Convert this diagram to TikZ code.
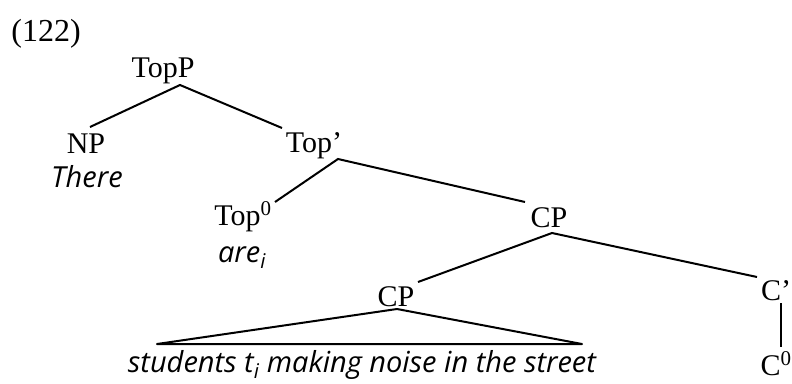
\documentclass[tikz,border=0pt]{standalone}
\usepackage{fontspec}
\setmainfont{Liberation Serif}
\newfontfamily\glossfont{Open Sans}

\begin{document}
\begin{tikzpicture}[
        x=1pt, y=-1pt,
        cat/.style={inner sep=0pt, anchor=base, font=\fontsize{30}{35}\selectfont},
        word/.style={inner sep=0pt, anchor=base, font=\glossfont\itshape\fontsize{29}{34}\selectfont},
        branch/.style={line width=2pt}
    ]
    \useasboundingbox (0,0) rectangle (792,383);

    % --- Example number ---
    \node[cat, font=\fontsize{32}{36}\selectfont] (num) at (46,41) {(122)};

    % --- Labels ---
    \node[cat] (topp) at (163,77) {TopP};
    \node[cat] (np) at (86,153) {NP};
    \node[word] (there) at (87,187) {There};
    \node[cat] (topbar) at (314,152) {Top’};
    \node[cat] (top0) at (243,225) {Top\textsuperscript{0}};
    \node[word] (are) at (242,262) {are\textsubscript{i}};
    \node[cat] (cp1) at (549,227) {CP};
    \node[cat] (cp2) at (396,306) {CP};
    \node[cat] (cbar) at (776,300) {C’};
    \node[cat] (c0) at (776,375) {C\textsuperscript{0}};
    \node[word] (yield) at (362,372) {students t\textsubscript{i} making noise in the street};

    % --- Attachment points ---
    \coordinate (topp-b) at (180,85);
    \coordinate (np-t) at (90,127);
    \coordinate (topbar-t) at (282,128);
    \coordinate (topbar-b) at (338,159);
    \coordinate (top0-t) at (275,202);
    \coordinate (cp1-t) at (525,202);
    \coordinate (cp1-b) at (552,233);
    \coordinate (cp2-t) at (418,282);
    \coordinate (cbar-t) at (757,277);
    \coordinate (cbar-b) at (781,303);
    \coordinate (c0-t) at (781,347);
    \coordinate (cp2-b) at (397,309);
    \coordinate (tri-l) at (157,344);
    \coordinate (tri-r) at (582,344);

    % --- Branches ---
    \draw[branch] (np-t) -- (topp-b) -- (topbar-t);
    \draw[branch] (top0-t) -- (topbar-b) -- (cp1-t);
    \draw[branch] (cp2-t) -- (cp1-b) -- (cbar-t);
    \draw[branch] (cbar-b) -- (c0-t);
    \draw[branch, line join=round] (cp2-b) -- (tri-l) -- (tri-r) -- cycle;

\end{tikzpicture}
\end{document}
